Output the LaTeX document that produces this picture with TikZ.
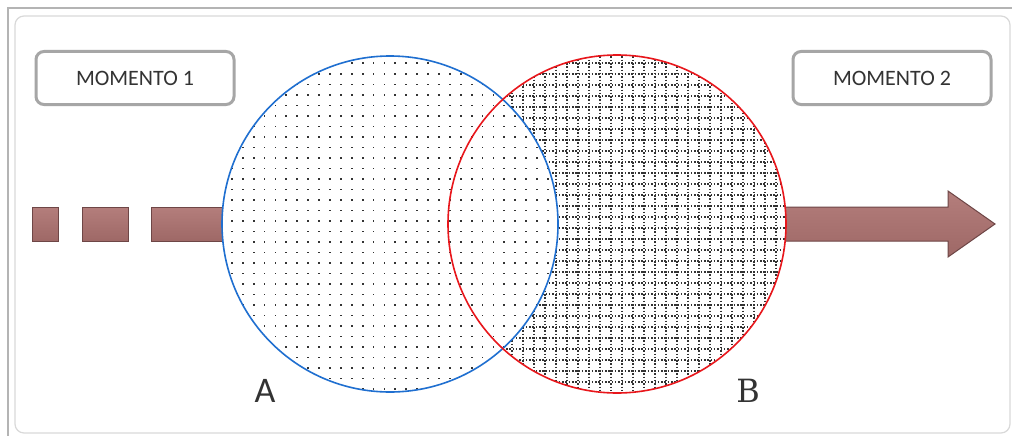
\documentclass[tikz,border=0pt]{standalone}
\usepackage{fontspec}
\setmainfont{Carlito}
\newfontfamily\slabfont{DejaVu Serif}
\definecolor{arrowfill}{HTML}{A97270}
\definecolor{arrowtop}{HTML}{B47E7C}
\definecolor{arrowbot}{HTML}{9E6866}
\definecolor{arrowedge}{HTML}{6E4646}
\definecolor{boxedge}{HTML}{A6A6A6}
\definecolor{frameedge}{HTML}{B4B4B4}
\definecolor{panel}{HTML}{D9D9D9}
\definecolor{circA}{HTML}{1F6FD0}
\definecolor{circB}{HTML}{E8161B}
\definecolor{txt}{HTML}{333333}
\tikzset{
  momentbox/.style={draw=boxedge, line width=3pt, rounded corners=8pt, fill=white,
    minimum width=198pt, minimum height=53pt, inner sep=0pt, text=txt,
    font=\fontsize{22}{24}\selectfont},
  dashbox/.style={fill=arrowfill, draw=arrowedge, line width=1pt, top color=arrowtop, bottom color=arrowbot},
  biglabel/.style={text=txt, inner sep=0pt, font=\fontsize{36}{38}\selectfont},
  gridline/.style={txt, line width=1.5pt, dash pattern=on 1.5pt off 1.8pt},
}
\begin{document}
\begin{tikzpicture}[x=1pt,y=-1pt]
\useasboundingbox (0,0) rectangle (1012,436);
\fill[white] (0,0) rectangle (1012,436);
% outer frame (top and left)
\coordinate (ftl) at (8,8);
\coordinate (ftr) at (1012,8);
\coordinate (fbl) at (8,436);
\draw[frameedge, line width=1.5pt] (fbl) -- (ftl) -- (ftr);
% inner panel
\coordinate (ptl) at (15,16);
\coordinate (pbr) at (1010,433);
\draw[panel, line width=1.2pt, rounded corners=9pt] (ptl) rectangle (pbr);
% dashes
\node[dashbox, minimum width=26pt, minimum height=34pt, inner sep=0pt] (d1) at (45,224) {};
\node[dashbox, minimum width=46pt, minimum height=34pt, inner sep=0pt] (d2) at (105,224) {};
\node[dashbox, minimum width=90pt, minimum height=34pt, inner sep=0pt] (d3) at (196,224) {};
% arrow
\coordinate (s1) at (700,207);
\coordinate (h1) at (948,207);
\coordinate (h2) at (948,191);
\coordinate (tip) at (995,224);
\coordinate (h3) at (948,257);
\coordinate (h4) at (948,241);
\coordinate (s2) at (700,241);
\draw[draw=arrowedge, line width=1pt, top color=arrowtop, bottom color=arrowbot, line join=miter]
  (s1) -- (h1) -- (h2) -- (tip) -- (h3) -- (h4) -- (s2) -- cycle;
% circle B fill (dotted grid)
\coordinate (Bc) at (617,224);
\coordinate (Ac) at (390,224);
\fill[white] (Bc) circle (169);
\begin{scope}
  \clip (Bc) circle (169);
  \foreach \k in {0,...,31} {
    \draw[gridline] (446+\k*11,40) -- (446+\k*11,410);
    \draw[gridline] (440,52+\k*11) -- (800,52+\k*11);
  }
\end{scope}
% circle A fill (dots)
\fill[white] (Ac) circle (168);
\begin{scope}
  \clip (Ac) circle (168);
  \foreach \i in {0,...,32} {
    \foreach \j in {0,...,33} {
      \fill[txt] (220+\i*10.9,52+\j*10.5) rectangle ++(1.8,1.8);
    }
  }
\end{scope}
% outlines
\node[circle, draw=circA, line width=1.6pt, minimum size=336pt, inner sep=0pt] (A) at (Ac) {};
\node[circle, draw=circB, line width=1.6pt, minimum size=338pt, inner sep=0pt] (B) at (Bc) {};
% boxes
\node[momentbox] (m1) at (135,78) {MOMENTO 1};
\node[momentbox] (m2) at (892,78) {MOMENTO 2};
% labels
\node[biglabel] (la) at (265,391) {A};
\node[biglabel, font=\slabfont\fontsize{32}{34}\selectfont] (lb) at (748,391) {B};
\end{tikzpicture}
\end{document}
